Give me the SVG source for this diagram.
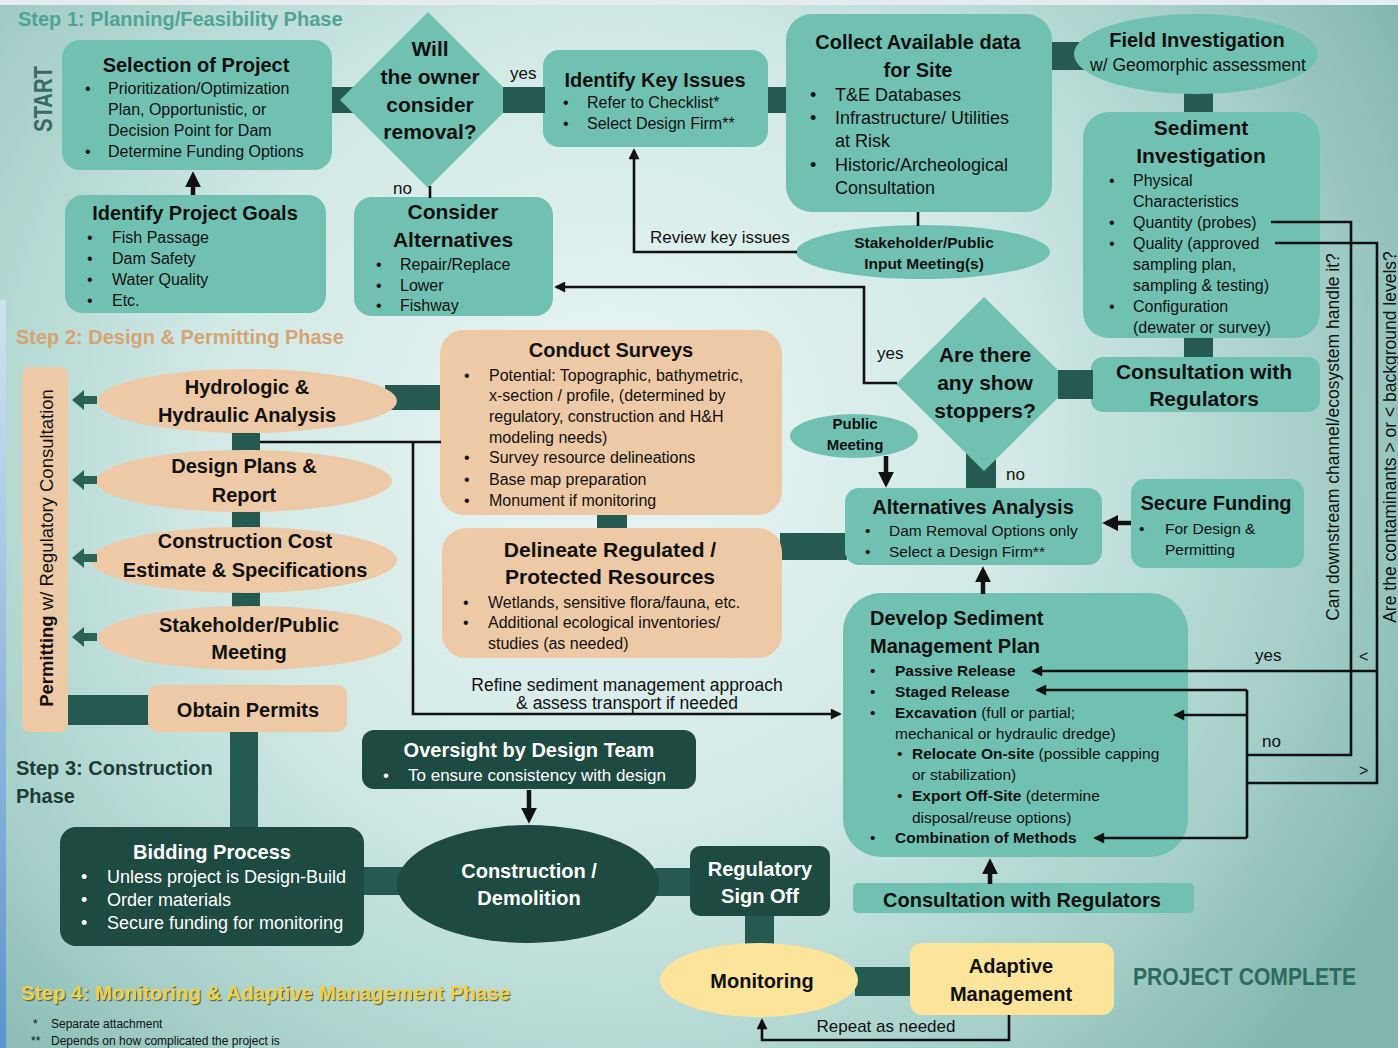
<svg xmlns="http://www.w3.org/2000/svg" width="1398" height="1048" viewBox="0 0 1398 1048">
<defs>
<radialGradient id="bg" cx="610" cy="440" r="900" gradientUnits="userSpaceOnUse">
<stop offset="0" stop-color="#e9f5f4"/>
<stop offset="0.45" stop-color="#d2e9e6"/>
<stop offset="0.8" stop-color="#a3cec7"/>
<stop offset="1" stop-color="#80b6ae"/>
</radialGradient>
<linearGradient id="edge" x1="0" y1="0" x2="0" y2="1">
<stop offset="0" stop-color="#cfe2ee"/>
<stop offset="1" stop-color="#5b94d2"/>
</linearGradient>
<filter id="sh" x="-5%" y="-30%" width="110%" height="160%">
<feDropShadow dx="1.2" dy="1.2" stdDeviation="0.6" flood-color="#3f3f2a" flood-opacity="0.75"/>
</filter>
<marker id="a" viewBox="0 0 10 10" refX="8" refY="5" markerWidth="12" markerHeight="11" markerUnits="userSpaceOnUse" orient="auto"><path d="M0,0 L10,5 L0,10 z" fill="#111"/></marker>
<marker id="A" viewBox="0 0 10 10" refX="7" refY="5" markerWidth="16" markerHeight="16" markerUnits="userSpaceOnUse" orient="auto"><path d="M0,0 L10,5 L0,10 z" fill="#111"/></marker>
<style>
text{font-family:"Liberation Sans",Arial,sans-serif;fill:#111}
.tl{fill:#71c1b2}
.tn{fill:#edc9a6}
.dk{fill:#1d4a41}
.yl{fill:#fde49b}
.bar{fill:#245a50}
.pa{fill:#2b6356}
.h{font-weight:700;font-size:20px;text-anchor:middle}
.h21{font-weight:700;font-size:21px;text-anchor:middle}
.b{font-size:16px}
.s{font-size:15.5px}
.w{fill:#fff}
.lbl{font-size:17px}
.ln{fill:none;stroke:#111;stroke-width:2.6}
.lk{fill:none;stroke:#111;stroke-width:4.5}
.bd{font-weight:700}
</style>
</defs>

<rect x="0" y="0" width="1398" height="1048" fill="url(#bg)"/>
<rect x="0" y="0" width="1398" height="5" fill="#e6eced"/>
<rect x="0" y="300" width="6" height="748" fill="url(#edge)"/>

<g id="phase-labels">
<text x="18" y="26" font-weight="bold" font-size="20" style="fill:#4fa595">Step 1: Planning/Feasibility Phase</text>
<text transform="translate(43,99) rotate(-90)" text-anchor="middle" dy="0.36em" font-weight="bold" font-size="26" textLength="66" lengthAdjust="spacingAndGlyphs" style="fill:#3c6b63">START</text>
<text x="16" y="344" font-weight="bold" font-size="20" style="fill:#d6a473">Step 2: Design &amp; Permitting Phase</text>
<text x="16" y="775" font-weight="bold" font-size="20" style="fill:#1f3b37">Step 3: Construction</text>
<text x="16" y="803" font-weight="bold" font-size="20" style="fill:#1f3b37">Phase</text>
<text x="21" y="1000" font-weight="bold" font-size="20.5" filter="url(#sh)" style="fill:#f3d04a">Step 4: Monitoring &amp; Adaptive Management Phase</text>
<text x="1133" y="985" font-weight="bold" font-size="23" textLength="223" lengthAdjust="spacingAndGlyphs" style="fill:#2e6a5f">PROJECT COMPLETE</text>
<text x="33" y="1028" font-size="12">*</text><text x="51" y="1028" font-size="12">Separate attachment</text>
<text x="31" y="1045" font-size="12">**</text><text x="51" y="1045" font-size="12">Depends on how complicated the project is</text>
</g>

<g id="bars">
<rect class="bar" x="330" y="87" width="45" height="26"/>
<rect class="bar" x="766" y="87" width="22" height="26"/>
<rect class="bar" x="1050" y="42" width="45" height="28"/>
<rect class="bar" x="1184" y="92" width="29" height="22"/>
<rect class="bar" x="1184" y="336" width="29" height="23"/>
<rect class="bar" x="966" y="440" width="30" height="50"/>
<rect class="bar" x="385" y="385" width="57" height="25"/>
<rect class="bar" x="232" y="430" width="28" height="22"/>
<rect class="bar" x="232" y="510" width="28" height="19"/>
<rect class="bar" x="232" y="590" width="28" height="19"/>
<rect class="bar" x="66" y="695" width="84" height="30"/>
<rect class="bar" x="230" y="730" width="28" height="99"/>
<rect class="bar" x="597" y="512" width="30" height="18"/>
<rect class="bar" x="780" y="533" width="67" height="27"/>
<rect class="bar" x="362" y="867" width="50" height="28"/>
<rect class="bar" x="655" y="868" width="37" height="28"/>
<rect class="bar" x="745" y="914" width="29" height="34"/>
<rect class="bar" x="855" y="967" width="57" height="29"/>
</g>

<g id="selection-of-project">
<rect class="tl" x="62" y="40" width="270" height="130" rx="18"/>
<text class="h" x="196" y="72">Selection of Project</text>
<text class="b"><tspan x="85" y="94">•</tspan><tspan x="108">Prioritization/Optimization</tspan></text>
<text class="b" x="108" y="115">Plan, Opportunistic, or</text>
<text class="b" x="108" y="136">Decision Point for Dam</text>
<text class="b"><tspan x="85" y="157">•</tspan><tspan x="108">Determine Funding Options</tspan></text>
</g>

<g id="identify-project-goals">
<rect class="tl" x="65" y="195" width="261" height="118" rx="18"/>
<text class="h" x="195" y="220">Identify Project Goals</text>
<text class="b"><tspan x="87" y="243">•</tspan><tspan x="112">Fish Passage</tspan></text>
<text class="b"><tspan x="87" y="264">•</tspan><tspan x="112">Dam Safety</tspan></text>
<text class="b"><tspan x="87" y="285">•</tspan><tspan x="112">Water Quality</tspan></text>
<text class="b"><tspan x="87" y="306">•</tspan><tspan x="112">Etc.</tspan></text>
</g>

<g id="decision-removal">
<polygon class="tl" points="428,12 516,100 428,188 340,100"/>
<text class="h21" x="430" y="56">Will</text>
<text class="h21" x="430" y="84">the owner</text>
<text class="h21" x="430" y="112">consider</text>
<text class="h21" x="430" y="139">removal?</text>
</g>

<g id="identify-key-issues">
<rect class="tl" x="543" y="50" width="225" height="97" rx="16"/>
<text class="h" x="655" y="87">Identify Key Issues</text>
<text class="b"><tspan x="563" y="108">•</tspan><tspan x="587">Refer to Checklist*</tspan></text>
<text class="b"><tspan x="563" y="129">•</tspan><tspan x="587">Select Design Firm**</tspan></text>
</g>

<g id="consider-alternatives">
<rect class="tl" x="354" y="197" width="199" height="119" rx="18"/>
<text class="h21" x="453" y="219">Consider</text>
<text class="h21" x="453" y="247">Alternatives</text>
<text class="b"><tspan x="376" y="270">•</tspan><tspan x="400">Repair/Replace</tspan></text>
<text class="b"><tspan x="376" y="291">•</tspan><tspan x="400">Lower</tspan></text>
<text class="b"><tspan x="376" y="311">•</tspan><tspan x="400">Fishway</tspan></text>
</g>

<g id="collect-data">
<rect class="tl" x="786" y="14" width="266" height="198" rx="26"/>
<text class="h" x="918" y="49">Collect Available data</text>
<text class="h" x="918" y="77">for Site</text>
<text font-size="18"><tspan x="810" y="101">•</tspan><tspan x="835">T&amp;E Databases</tspan></text>
<text font-size="18"><tspan x="810" y="124">•</tspan><tspan x="835">Infrastructure/ Utilities</tspan></text>
<text font-size="18" x="835" y="147">at Risk</text>
<text font-size="18"><tspan x="810" y="171">•</tspan><tspan x="835">Historic/Archeological</tspan></text>
<text font-size="18" x="835" y="194">Consultation</text>
</g>

<g id="field-investigation">
<ellipse class="tl" cx="1196" cy="54" rx="122" ry="40"/>
<text class="h" x="1197" y="47">Field Investigation</text>
<text x="1198" y="71" font-size="17.5" text-anchor="middle">w/ Geomorphic assessment</text>
</g>

<g id="stakeholder-input-meeting">
<ellipse class="tl" cx="923" cy="252" rx="127" ry="27"/>
<text x="924" y="248" font-size="15.5" font-weight="bold" text-anchor="middle">Stakeholder/Public</text>
<text x="924" y="269" font-size="15.5" font-weight="bold" text-anchor="middle">Input Meeting(s)</text>
</g>

<g id="sediment-investigation">
<rect class="tl" x="1083" y="112" width="237" height="226" rx="26"/>
<text class="h21" x="1201" y="135">Sediment</text>
<text class="h21" x="1201" y="163">Investigation</text>
<text class="b"><tspan x="1109" y="186">•</tspan><tspan x="1133">Physical</tspan></text>
<text class="b" x="1133" y="207">Characteristics</text>
<text class="b"><tspan x="1109" y="228">•</tspan><tspan x="1133">Quantity (probes)</tspan></text>
<text class="b"><tspan x="1109" y="249">•</tspan><tspan x="1133">Quality (approved</tspan></text>
<text class="b" x="1133" y="270">sampling plan,</text>
<text class="b" x="1133" y="291">sampling &amp; testing)</text>
<text class="b"><tspan x="1109" y="312">•</tspan><tspan x="1133">Configuration</tspan></text>
<text class="b" x="1133" y="333">(dewater or survey)</text>
</g>

<g id="consultation-regulators-1">
<rect class="tl" x="1091" y="357" width="229" height="55" rx="12"/>
<text class="h21" x="1204" y="379">Consultation with</text>
<text class="h21" x="1204" y="406">Regulators</text>
</g>

<g id="decision-show-stoppers">
<polygon class="tl" points="984,297 1072,384 984,471 896,384"/>
<text class="h21" x="985" y="362">Are there</text>
<text class="h21" x="985" y="390">any show</text>
<text class="h21" x="985" y="418">stoppers?</text>
</g>

<g id="public-meeting">
<ellipse class="tl" cx="854" cy="436" rx="64" ry="22"/>
<text x="855" y="428.5" font-size="15" font-weight="bold" text-anchor="middle">Public</text>
<text x="855" y="449.5" font-size="15" font-weight="bold" text-anchor="middle">Meeting</text>
</g>

<g id="alternatives-analysis">
<rect class="tl" x="845" y="488" width="257" height="77" rx="14"/>
<text class="h" x="973" y="514">Alternatives Analysis</text>
<text class="s"><tspan x="865" y="535.5">•</tspan><tspan x="889">Dam Removal Options only</tspan></text>
<text class="s"><tspan x="865" y="556.5">•</tspan><tspan x="889">Select a Design Firm**</tspan></text>
</g>

<g id="secure-funding">
<rect class="tl" x="1131" y="479" width="173" height="89" rx="14"/>
<text class="h" x="1216" y="510">Secure Funding</text>
<text class="s"><tspan x="1139" y="533.5">•</tspan><tspan x="1165">For Design &amp;</tspan></text>
<text class="s" x="1165" y="554.5">Permitting</text>
</g>

<g id="sediment-management-plan">
<rect class="tl" x="843" y="593" width="345" height="264" rx="38"/>
<text x="870" y="625" font-size="20" font-weight="bold">Develop Sediment</text>
<text x="870" y="653" font-size="20" font-weight="bold">Management Plan</text>
<text class="s"><tspan x="870" y="676">•</tspan><tspan x="895" class="bd">Passive Release</tspan></text>
<text class="s"><tspan x="870" y="697">•</tspan><tspan x="895" class="bd">Staged Release</tspan></text>
<text class="s"><tspan x="870" y="718">•</tspan><tspan x="895" class="bd">Excavation</tspan><tspan> (full or partial;</tspan></text>
<text class="s" x="895" y="739">mechanical or hydraulic dredge)</text>
<text class="s"><tspan x="897" y="759">•</tspan><tspan x="912" class="bd">Relocate On-site</tspan><tspan> (possible capping</tspan></text>
<text class="s" x="912" y="780">or stabilization)</text>
<text class="s"><tspan x="897" y="801">•</tspan><tspan x="912" class="bd">Export Off-Site</tspan><tspan> (determine</tspan></text>
<text class="s" x="912" y="823">disposal/reuse options)</text>
<text class="s"><tspan x="870" y="843">•</tspan><tspan x="895" class="bd">Combination of Methods</tspan></text>
</g>

<g id="consultation-regulators-2">
<rect class="tl" x="853" y="883" width="341" height="30" rx="5"/>
<text class="h" x="1022" y="907">Consultation with Regulators</text>
</g>

<g id="conduct-surveys">
<rect class="tn" x="440" y="330" width="342" height="185" rx="24"/>
<text class="h" x="611" y="357">Conduct Surveys</text>
<text class="b"><tspan x="464" y="380.5">•</tspan><tspan x="489">Potential: Topographic, bathymetric,</tspan></text>
<text class="b" x="489" y="400.5">x-section / profile, (determined by</text>
<text class="b" x="489" y="421.5">regulatory, construction and H&amp;H</text>
<text class="b" x="489" y="442.5">modeling needs)</text>
<text class="b"><tspan x="464" y="462.5">•</tspan><tspan x="489">Survey resource delineations</tspan></text>
<text class="b"><tspan x="464" y="484.5">•</tspan><tspan x="489">Base map preparation</tspan></text>
<text class="b"><tspan x="464" y="505.5">•</tspan><tspan x="489">Monument if monitoring</tspan></text>
</g>

<g id="delineate-resources">
<rect class="tn" x="442" y="528" width="340" height="130" rx="24"/>
<text class="h21" x="610" y="557">Delineate Regulated /</text>
<text class="h21" x="610" y="584">Protected Resources</text>
<text class="b"><tspan x="463" y="607.5">•</tspan><tspan x="488">Wetlands, sensitive flora/fauna, etc.</tspan></text>
<text class="b"><tspan x="463" y="627.5">•</tspan><tspan x="488">Additional ecological inventories/</tspan></text>
<text class="b" x="488" y="648.5">studies (as needed)</text>
</g>

<g id="permitting">
<rect class="tn" x="22" y="367" width="46" height="365" rx="8"/>
<text transform="translate(47,548) rotate(-90)" text-anchor="middle" dy="0.35em" font-size="18.5"><tspan font-weight="bold">Permitting</tspan> w/ Regulatory Consultation</text>
</g>

<g id="hh-analysis">
<ellipse class="tn" cx="247" cy="401" rx="150" ry="32"/>
<text class="h" x="247" y="394">Hydrologic &amp;</text>
<text class="h" x="247" y="422">Hydraulic Analysis</text>
</g>

<g id="design-plans">
<ellipse class="tn" cx="244" cy="481" rx="148" ry="31"/>
<text class="h" x="244" y="473">Design Plans &amp;</text>
<text class="h" x="244" y="502">Report</text>
</g>

<g id="cost-estimate">
<ellipse class="tn" cx="244" cy="560" rx="153" ry="33"/>
<text class="h" x="245" y="548">Construction Cost</text>
<text class="h" x="245" y="577">Estimate &amp; Specifications</text>
</g>

<g id="stakeholder-meeting">
<ellipse class="tn" cx="250" cy="638" rx="152" ry="32"/>
<text class="h" x="249" y="632">Stakeholder/Public</text>
<text class="h" x="249" y="659">Meeting</text>
</g>

<g id="obtain-permits">
<rect class="tn" x="148" y="685" width="199" height="47" rx="10"/>
<text class="h" x="248" y="717">Obtain Permits</text>
</g>

<g id="bidding-process">
<rect class="dk" x="60" y="827" width="304" height="119" rx="16"/>
<text class="h w" x="212" y="859">Bidding Process</text>
<text class="w" font-size="18"><tspan class="w" x="81" y="883">•</tspan><tspan class="w" x="107">Unless project is Design-Build</tspan></text>
<text class="w" font-size="18"><tspan class="w" x="81" y="906">•</tspan><tspan class="w" x="107">Order materials</tspan></text>
<text class="w" font-size="18"><tspan class="w" x="81" y="929">•</tspan><tspan class="w" x="107">Secure funding for monitoring</tspan></text>
</g>

<g id="oversight">
<rect class="dk" x="362" y="730" width="334" height="59" rx="12"/>
<text class="h w" x="529" y="757">Oversight by Design Team</text>
<text class="w" font-size="17"><tspan class="w" x="383" y="781">•</tspan><tspan class="w" x="408">To ensure consistency with design</tspan></text>
</g>

<g id="construction-demolition">
<ellipse class="dk" cx="528" cy="884" rx="131" ry="59"/>
<text class="h w" x="529" y="878">Construction /</text>
<text class="h w" x="529" y="905">Demolition</text>
</g>

<g id="regulatory-sign-off">
<rect class="dk" x="690" y="846" width="140" height="70" rx="10"/>
<text class="h w" x="760" y="876">Regulatory</text>
<text class="h w" x="760" y="903">Sign Off</text>
</g>

<g id="monitoring">
<ellipse class="yl" cx="759" cy="980" rx="99" ry="37"/>
<text class="h" x="762" y="988">Monitoring</text>
</g>

<g id="adaptive-management">
<rect class="yl" x="910" y="943" width="204" height="72" rx="12"/>
<text class="h" x="1011" y="973">Adaptive</text>
<text class="h" x="1011" y="1001">Management</text>
</g>

<g id="connectors">
<rect class="bar" x="503" y="87" width="42" height="26"/>
<rect class="bar" x="1058" y="370" width="35" height="29"/>
<polygon class="pa" points="72,400 84,390 84,396 97,396 97,404 84,404 84,410"/>
<polygon class="pa" points="72,480 84,470 84,476 97,476 97,484 84,484 84,490"/>
<polygon class="pa" points="72,558 84,548 84,554 97,554 97,562 84,562 84,568"/>
<polygon class="pa" points="72,637 84,627 84,633 97,633 97,641 84,641 84,647"/>
<line class="lk" x1="193" y1="195" x2="193" y2="176" marker-end="url(#A)"/>
<line class="ln" x1="430" y1="186" x2="430" y2="198"/>
<polyline class="ln" points="797,252 634,252 634,150.4" marker-end="url(#a)"/>
<polyline class="ln" points="897,383 864,383 864,287 556.4,287" marker-end="url(#a)"/>
<line class="ln" x1="918" y1="212" x2="918" y2="226"/>
<line class="ln" x1="260" y1="442" x2="441" y2="442"/>
<polyline class="ln" points="413,442 413,714 839.6,714" marker-end="url(#a)"/>
<line class="lk" x1="886" y1="456" x2="886" y2="483" marker-end="url(#A)"/>
<line class="lk" x1="1131" y1="523" x2="1107" y2="523" marker-end="url(#A)"/>
<line class="lk" x1="983" y1="594" x2="983" y2="571" marker-end="url(#A)"/>
<line class="lk" x1="990" y1="884" x2="990" y2="863" marker-end="url(#A)"/>
<line class="lk" x1="529" y1="790" x2="529" y2="819" marker-end="url(#A)"/>
<polyline class="ln" points="1009,1015 1009,1040 762,1040 762,1020.4" marker-end="url(#a)"/>
<polyline class="ln" points="1271,222 1351,222 1351,755 1247,755"/>
<polyline class="ln" points="1275,243 1377,243 1377,783 1247,783"/>
<line class="ln" x1="1377" y1="671" x2="1033.4" y2="671" marker-end="url(#a)"/>
<line class="ln" x1="1247" y1="690" x2="1247" y2="838"/>
<line class="ln" x1="1247" y1="690" x2="1037.4" y2="690" marker-end="url(#a)"/>
<line class="ln" x1="1247" y1="715" x2="1175.4" y2="715" marker-end="url(#a)"/>
<line class="ln" x1="1247" y1="838" x2="1095.4" y2="838" marker-end="url(#a)"/>
<text class="lbl" x="510" y="79">yes</text>
<text class="lbl" x="393" y="194">no</text>
<text class="lbl" x="650" y="243">Review key issues</text>
<text class="lbl" x="877" y="359">yes</text>
<text class="lbl" x="1006" y="480">no</text>
<text class="lbl" x="1255" y="661">yes</text>
<text class="lbl" x="1262" y="747">no</text>
<text font-size="16" x="1359" y="662">&lt;</text>
<text font-size="16" x="1359" y="776">&gt;</text>
<text font-size="17.5" x="627" y="691" text-anchor="middle">Refine sediment management approach</text>
<text font-size="17.5" x="627" y="709" text-anchor="middle">&amp; assess transport if needed</text>
<text font-size="17" x="886" y="1032" text-anchor="middle">Repeat as needed</text>
<text transform="translate(1333,437) rotate(-90)" text-anchor="middle" dy="0.35em" font-size="17.5">Can downstream channel/ecosystem handle it?</text>
<text transform="translate(1390,437) rotate(-90)" text-anchor="middle" dy="0.35em" font-size="17.5">Are the contaminants &gt; or &lt; background levels?</text>
</g>
</svg>
